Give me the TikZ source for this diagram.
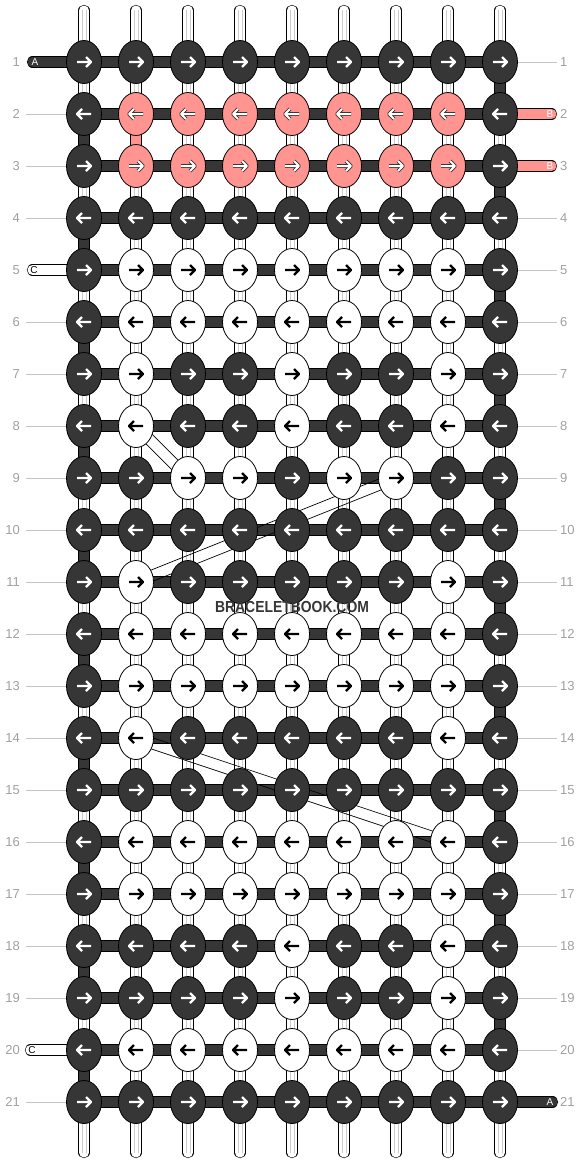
\documentclass[tikz,border=0pt]{standalone}
\usepackage{fontspec}
\setmainfont{Liberation Sans}
\usetikzlibrary{shapes.geometric,calc}

\definecolor{knotdark}{HTML}{363636}
\definecolor{knotpink}{HTML}{FF9490}
\definecolor{rowgray}{HTML}{A0A0A0}
\definecolor{tickgray}{HTML}{C4C4C4}

\tikzset{
  knot/.style={ellipse,draw=black,line width=0.8pt,minimum width=35pt,minimum height=43pt,inner sep=0pt},
  kd/.style={knot,fill=knotdark},
  kw/.style={knot,fill=white},
  kp/.style={knot,fill=knotpink},
  strand/.style={draw=black,line width=0.6pt,double=#1,double distance=10pt},
  rowno/.style={text=rowgray,inner sep=0pt,font=\fontsize{13}{15}\selectfont},
  tick/.style={draw=tickgray,line width=0.8pt},
  endtag/.style={inner sep=0pt,font=\fontsize{10}{11}\selectfont},
  arrd/.pic={\draw[white,line width=2.2pt,line join=round] (-7,0) -- (7,0) (2,-5) -- (7,0) -- (2,5);},
  arrw/.pic={\draw[black,line width=2.2pt,line join=round] (-7,0) -- (7,0) (2,-5) -- (7,0) -- (2,5);},
  arrp/.pic={\draw[knotdark,line width=3.6pt,line join=round] (-7,0) -- (7,0) (2,-5) -- (7,0) -- (2,5);
             \draw[white,line width=2pt,line join=round] (-7,0) -- (7,0) (2,-5) -- (7,0) -- (2,5);}
}

\begin{document}
\begin{tikzpicture}[x=1pt,y=-1pt]
  \useasboundingbox (0,0) rectangle (584,1164);

  % grid of knot positions
  \foreach \r in {1,...,21}
    \foreach \c in {1,...,9}
      \coordinate (p-\r-\c) at ({32+52*\c},{10+52*\r});

  % warp strands
  \foreach \c in {1,...,9} {
    \coordinate (t-\c) at ({32+52*\c},10.5);
    \coordinate (b-\c) at ({32+52*\c},1152.5);
    \draw[strand=white,line cap=round] (t-\c) -- (b-\c);
    \draw[gray!40,line width=0.5pt] ($(t-\c)+(-1.8,0)$) -- ($(b-\c)+(-1.8,0)$)
                                    ($(t-\c)+(1.8,0)$) -- ($(b-\c)+(1.8,0)$);
  }

  % turns at the edges
  \foreach \r in {2,4,...,20} {
    \pgfmathtruncatemacro{\s}{\r+1}
    \draw[strand=knotdark] (p-\r-1) -- (p-\s-1);
  }
  \foreach \r in {1,3,...,19} {
    \pgfmathtruncatemacro{\s}{\r+1}
    \draw[strand=knotdark] (p-\r-9) -- (p-\s-9);
  }
  \draw[strand=knotpink] (p-2-2) -- (p-3-2);

  % working strands
  \foreach \r in {1,...,21}
    \draw[strand=knotdark] (p-\r-1) -- (p-\r-9);

  % loose ends
  \coordinate (e-1) at (32.5,62);
  \coordinate (e-5) at (32.5,270);
  \coordinate (e-20) at (30.5,1050);
  \coordinate (e-2) at (551.5,114);
  \coordinate (e-3) at (551.5,166);
  \coordinate (e-21) at (552.5,1102);
  \draw[strand=knotdark,line cap=round] (e-1) -- (p-1-1);
  \draw[strand=white,line cap=round] (e-5) -- (p-5-1);
  \draw[strand=white,line cap=round] (e-20) -- (p-20-1);
  \draw[strand=knotpink,line cap=round] (e-2) -- (p-2-9);
  \draw[strand=knotpink,line cap=round] (e-3) -- (p-3-9);
  \draw[strand=knotdark,line cap=round] (e-21) -- (p-21-9);
  \node[endtag,text=white] (tag-a1) at (35,62) {A};
  \node[endtag] (tag-c5) at (34,270) {C};
  \node[endtag] (tag-c20) at (32,1050) {C};
  \node[endtag,text=white] (tag-b2) at (550,114) {B};
  \node[endtag,text=white] (tag-b3) at (550,166) {B};
  \node[endtag,text=white] (tag-a21) at (550,1102) {A};

  % row numbers
  \foreach \r in {1,...,21} {
    \node[rowno,anchor=east] (l-\r) at (20,{10+52*\r}) {\r};
    \node[rowno,anchor=west] (rr-\r) at (560,{10+52*\r}) {\r};
  }
  \foreach \r in {2,3,4,6,7,...,19,21}
    \draw[tick] ([xshift=6pt]l-\r.east) -- (p-\r-1);
  \foreach \r in {1,4,5,...,20}
    \draw[tick] (p-\r-9) -- ([xshift=-3pt]rr-\r.west);

  % strands crossing behind
  \foreach \u/\v in {p-8-2/p-9-3, p-9-7/p-11-2, p-14-2/p-16-8} {
    \draw[line width=0.7pt] ($(\u)!5.5pt!90:(\v)$) -- ($(\v)!5.5pt!-90:(\u)$);
    \draw[line width=0.7pt] ($(\u)!5.5pt!-90:(\v)$) -- ($(\v)!5.5pt!90:(\u)$);
  }

  % knots
  \foreach \r/\cols in {
      1/{d,d,d,d,d,d,d,d,d},  2/{d,p,p,p,p,p,p,p,d},  3/{d,p,p,p,p,p,p,p,d},
      4/{d,d,d,d,d,d,d,d,d},  5/{d,w,w,w,w,w,w,w,d},  6/{d,w,w,w,w,w,w,w,d},
      7/{d,w,d,d,w,d,d,w,d},  8/{d,w,d,d,w,d,d,w,d},  9/{d,d,w,w,d,w,w,d,d},
     10/{d,d,d,d,d,d,d,d,d}, 11/{d,w,d,d,d,d,d,w,d}, 12/{d,w,w,w,w,w,w,w,d},
     13/{d,w,w,w,w,w,w,w,d}, 14/{d,w,d,d,d,d,d,w,d}, 15/{d,d,d,d,d,d,d,d,d},
     16/{d,w,w,w,w,w,w,w,d}, 17/{d,w,w,w,w,w,w,w,d}, 18/{d,d,d,d,w,d,d,w,d},
     19/{d,d,d,d,w,d,d,w,d}, 20/{d,w,w,w,w,w,w,w,d}, 21/{d,d,d,d,d,d,d,d,d}} {
    \pgfmathsetmacro{\dir}{ifthenelse(mod(\r,2)==1,1,-1)}
    \foreach \k [count=\c] in \cols {
      \node[k\k] (k-\r-\c) at (p-\r-\c) {};
      \pic[xscale=\dir] at (k-\r-\c) {arr\k};
    }
  }

  \node[text=knotdark,font=\bfseries\fontsize{16}{16}\selectfont] (brand) at (292,607)
    {\scalebox{0.87}[1]{BRACELETBOOK.COM}};
\end{tikzpicture}
\end{document}
